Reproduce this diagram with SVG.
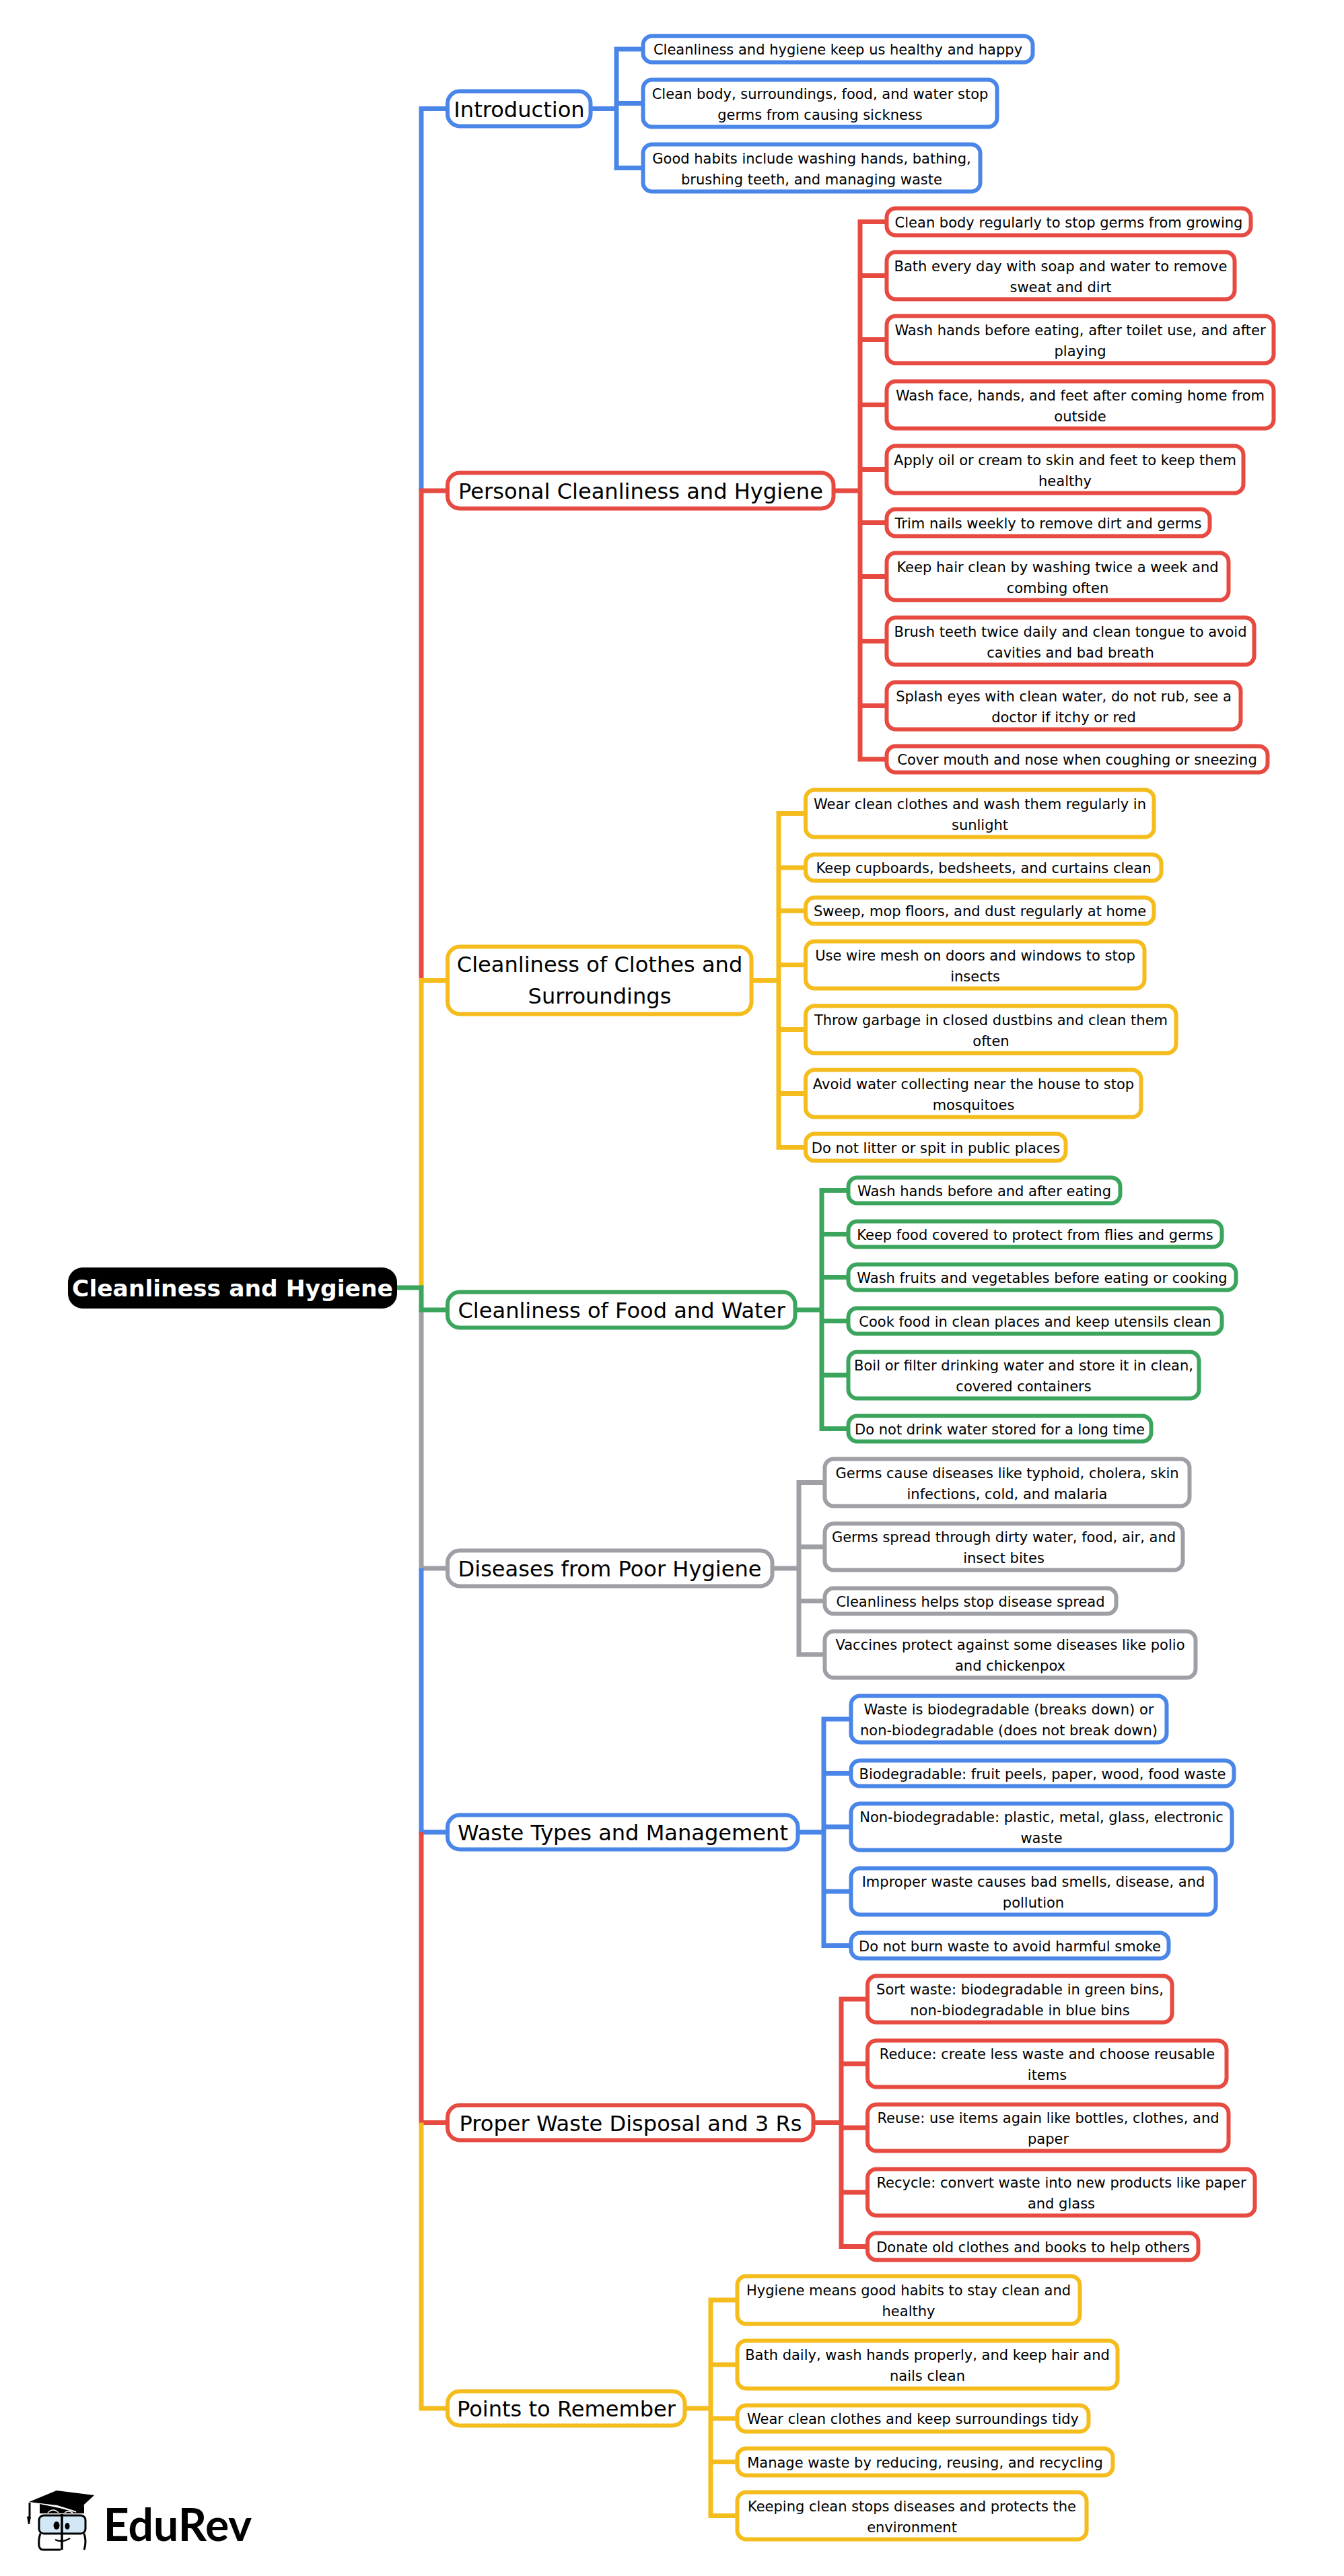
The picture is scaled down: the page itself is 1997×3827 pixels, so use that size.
<svg xmlns="http://www.w3.org/2000/svg" width="1997" height="3827" viewBox="0 0 1997 3827">
<style>
text{font-family:"DejaVu Sans","Liberation Sans",sans-serif;fill:#000;text-anchor:middle}
.l{font-size:21px}
.m{font-size:32.1px}
.r{font-size:34.5px;font-weight:700;fill:#fff}
rect.n{fill:#fff;stroke-width:6}
.lf{rx:13px;ry:13px}
.br{rx:18px;ry:18px}
.c path{fill:none;stroke-width:7;stroke-linejoin:miter}
.blue{stroke:#4a86e8}
.red{stroke:#e64a41}
.yel{stroke:#f4bc1c}
.grn{stroke:#3ba55d}
.gry{stroke:#9ea0a6}
</style>
<rect width="1997" height="3827" fill="#fff"/>
<g id="connectors" class="c">
<path class="blue" d="M663 161.5H626V729"/>
<path class="red" d="M663 729H626V1456.5"/>
<path class="yel" d="M663 1456.5H626V1913"/>
<path class="gry" d="M663 2330H626V1946"/>
<path class="grn" d="M590 1913H626V1946H663"/>
<path class="blue" d="M663 2722H626V2330"/>
<path class="red" d="M663 3153.5H626V2722"/>
<path class="yel" d="M663 3578H626V3153.5"/>
<path class="blue" d="M880 161.5H916M953 73H916V249.5H953M916 153.5H953"/>
<path class="red" d="M1241 729H1278M1315 329.5H1278V1128H1315M1278 409.5H1315M1278 504.5H1315M1278 601.5H1315M1278 697.5H1315M1278 776.5H1315M1278 856.5H1315M1278 952.5H1315M1278 1048.5H1315"/>
<path class="yel" d="M1119 1456.5H1157M1195 1208.5H1157V1704.5H1195M1157 1289H1195M1157 1353H1195M1157 1433.5H1195M1157 1529.5H1195M1157 1624.5H1195"/>
<path class="grn" d="M1184 1946H1221M1258 1768.5H1221V2122.5H1258M1221 1833.5H1258M1221 1897.5H1258M1221 1962.5H1258M1221 2043H1258"/>
<path class="gry" d="M1150 2330H1187M1223 2202.5H1187V2458H1223M1187 2298H1223M1187 2378.5H1223"/>
<path class="blue" d="M1188 2722H1224M1262 2554H1224V2890.5H1262M1224 2634.5H1262M1224 2714H1262M1224 2810H1262"/>
<path class="red" d="M1211 3153.5H1250M1287 2970H1250V3337.5H1287M1250 3066H1287M1250 3161H1287M1250 3257H1287"/>
<path class="yel" d="M1020 3578H1056M1093 3417H1056V3737.5H1093M1056 3513H1093M1056 3593H1093M1056 3657.5H1093"/>
</g>
<g id="root"><rect x="101" y="1883" width="489" height="61" rx="22" fill="#000"/><text class="r" x="345.5" y="1926">Cleanliness and Hygiene</text></g>

<g id="introduction"><rect class="n br blue" x="665" y="135.5" width="212.5" height="52"/><text class="m" x="771.5" y="173.5">Introduction</text></g>
<g id="i1"><rect class="n lf blue" x="955.5" y="53.5" width="579" height="39"/><text class="l" x="1245" y="81">Cleanliness and hygiene keep us healthy and happy</text></g>
<g id="i2"><rect class="n lf blue" x="955.5" y="118.5" width="526" height="70"/><text class="l"><tspan x="1218.5" y="146.5">Clean body, surroundings, food, and water stop</tspan><tspan x="1218.5" y="177.5">germs from causing sickness</tspan></text></g>
<g id="i3"><rect class="n lf blue" x="955.5" y="214.5" width="501" height="70"/><text class="l"><tspan x="1206" y="242.5">Good habits include washing hands, bathing,</tspan><tspan x="1206" y="273.5">brushing teeth, and managing waste</tspan></text></g>

<g id="personal"><rect class="n br red" x="665" y="702.5" width="573.5" height="53"/><text class="m" x="952" y="741">Personal Cleanliness and Hygiene</text></g>
<g id="p1"><rect class="n lf red" x="1317.5" y="309.5" width="541" height="40"/><text class="l" x="1588" y="337.500">Clean body regularly to stop germs from growing</text></g>
<g id="p2"><rect class="n lf red" x="1317.5" y="374.5" width="517" height="70"/><text class="l"><tspan x="1576" y="402.5">Bath every day with soap and water to remove</tspan><tspan x="1576" y="433.5">sweat and dirt</tspan></text></g>
<g id="p3"><rect class="n lf red" x="1317.5" y="469.5" width="575" height="70"/><text class="l"><tspan x="1605" y="497.5">Wash hands before eating, after toilet use, and after</tspan><tspan x="1605" y="528.5">playing</tspan></text></g>
<g id="p4"><rect class="n lf red" x="1317.5" y="566.5" width="575" height="70"/><text class="l"><tspan x="1605" y="594.5">Wash face, hands, and feet after coming home from</tspan><tspan x="1605" y="625.5">outside</tspan></text></g>
<g id="p5"><rect class="n lf red" x="1317.5" y="662.5" width="530" height="70"/><text class="l"><tspan x="1582.5" y="690.5">Apply oil or cream to skin and feet to keep them</tspan><tspan x="1582.5" y="721.5">healthy</tspan></text></g>
<g id="p6"><rect class="n lf red" x="1317.5" y="756.5" width="480" height="40"/><text class="l" x="1557.5" y="784.500">Trim nails weekly to remove dirt and germs</text></g>
<g id="p7"><rect class="n lf red" x="1317.5" y="821.5" width="508" height="70"/><text class="l"><tspan x="1571.5" y="849.5">Keep hair clean by washing twice a week and</tspan><tspan x="1571.5" y="880.5">combing often</tspan></text></g>
<g id="p8"><rect class="n lf red" x="1317.5" y="917.5" width="546" height="70"/><text class="l"><tspan x="1590.5" y="945.5">Brush teeth twice daily and clean tongue to avoid</tspan><tspan x="1590.5" y="976.5">cavities and bad breath</tspan></text></g>
<g id="p9"><rect class="n lf red" x="1317.5" y="1013.5" width="526" height="70"/><text class="l"><tspan x="1580.5" y="1041.5">Splash eyes with clean water, do not rub, see a</tspan><tspan x="1580.5" y="1072.5">doctor if itchy or red</tspan></text></g>
<g id="p10"><rect class="n lf red" x="1317.5" y="1108.5" width="566" height="39"/><text class="l" x="1600.5" y="1136">Cover mouth and nose when coughing or sneezing</text></g>

<g id="clothes"><rect class="n br yel" x="665" y="1406.5" width="451.5" height="100"/><text class="m"><tspan x="891" y="1444">Cleanliness of Clothes and</tspan><tspan x="891" y="1491">Surroundings</tspan></text></g>
<g id="c1"><rect class="n lf yel" x="1197" y="1173.5" width="517.5" height="70"/><text class="l"><tspan x="1456" y="1201.5">Wear clean clothes and wash them regularly in</tspan><tspan x="1456" y="1232.5">sunlight</tspan></text></g>
<g id="c2"><rect class="n lf yel" x="1197" y="1269.5" width="528.5" height="39"/><text class="l" x="1461.5" y="1297">Keep cupboards, bedsheets, and curtains clean</text></g>
<g id="c3"><rect class="n lf yel" x="1197" y="1333.5" width="517.5" height="39"/><text class="l" x="1456" y="1361">Sweep, mop floors, and dust regularly at home</text></g>
<g id="c4"><rect class="n lf yel" x="1197" y="1398.5" width="503.5" height="70"/><text class="l"><tspan x="1449" y="1426.5">Use wire mesh on doors and windows to stop</tspan><tspan x="1449" y="1457.5">insects</tspan></text></g>
<g id="c5"><rect class="n lf yel" x="1197" y="1494.5" width="550.5" height="70"/><text class="l"><tspan x="1472.5" y="1522.5">Throw garbage in closed dustbins and clean them</tspan><tspan x="1472.5" y="1553.5">often</tspan></text></g>
<g id="c6"><rect class="n lf yel" x="1197" y="1589.5" width="498.5" height="70"/><text class="l"><tspan x="1446.5" y="1617.5">Avoid water collecting near the house to stop</tspan><tspan x="1446.5" y="1648.5">mosquitoes</tspan></text></g>
<g id="c7"><rect class="n lf yel" x="1197" y="1684.5" width="386.5" height="40"/><text class="l" x="1390.5" y="1712.500">Do not litter or spit in public places</text></g>

<g id="food"><rect class="n br grn" x="665" y="1919.5" width="516.5" height="53"/><text class="m" x="923.5" y="1958">Cleanliness of Food and Water</text></g>
<g id="f1"><rect class="n lf grn" x="1260.5" y="1749.5" width="404" height="38"/><text class="l" x="1462.5" y="1776.500">Wash hands before and after eating</text></g>
<g id="f2"><rect class="n lf grn" x="1260.5" y="1814.5" width="555" height="38"/><text class="l" x="1538" y="1841.500">Keep food covered to protect from flies and germs</text></g>
<g id="f3"><rect class="n lf grn" x="1260.5" y="1878.5" width="576" height="38"/><text class="l" x="1548.5" y="1905.500">Wash fruits and vegetables before eating or cooking</text></g>
<g id="f4"><rect class="n lf grn" x="1260.5" y="1943.5" width="555" height="38"/><text class="l" x="1538" y="1970.500">Cook food in clean places and keep utensils clean</text></g>
<g id="f5"><rect class="n lf grn" x="1260.5" y="2008.5" width="521" height="69"/><text class="l"><tspan x="1521" y="2036">Boil or filter drinking water and store it in clean,</tspan><tspan x="1521" y="2067">covered containers</tspan></text></g>
<g id="f6"><rect class="n lf grn" x="1260.5" y="2103.5" width="450" height="38"/><text class="l" x="1485.5" y="2130.500">Do not drink water stored for a long time</text></g>

<g id="diseases"><rect class="n br gry" x="665" y="2303.5" width="482.5" height="53"/><text class="m" x="906" y="2342">Diseases from Poor Hygiene</text></g>
<g id="g1"><rect class="n lf gry" x="1225.5" y="2167.5" width="542" height="70"/><text class="l"><tspan x="1496.5" y="2195.5">Germs cause diseases like typhoid, cholera, skin</tspan><tspan x="1496.5" y="2226.5">infections, cold, and malaria</tspan></text></g>
<g id="g2"><rect class="n lf gry" x="1225.5" y="2263.5" width="532" height="69"/><text class="l"><tspan x="1491.5" y="2291">Germs spread through dirty water, food, air, and</tspan><tspan x="1491.5" y="2322">insect bites</tspan></text></g>
<g id="g3"><rect class="n lf gry" x="1225.5" y="2359.5" width="433" height="38"/><text class="l" x="1442" y="2386.500">Cleanliness helps stop disease spread</text></g>
<g id="g4"><rect class="n lf gry" x="1225.5" y="2423.5" width="551" height="69"/><text class="l"><tspan x="1501" y="2451">Vaccines protect against some diseases like polio</tspan><tspan x="1501" y="2482">and chickenpox</tspan></text></g>

<g id="waste"><rect class="n br blue" x="665" y="2696.5" width="520.5" height="51"/><text class="m" x="925.5" y="2734">Waste Types and Management</text></g>
<g id="w1"><rect class="n lf blue" x="1264.5" y="2519.5" width="469" height="69"/><text class="l"><tspan x="1499" y="2547">Waste is biodegradable (breaks down) or</tspan><tspan x="1499" y="2578">non-biodegradable (does not break down)</tspan></text></g>
<g id="w2"><rect class="n lf blue" x="1264.5" y="2615.5" width="569" height="38"/><text class="l" x="1549" y="2642.500">Biodegradable: fruit peels, paper, wood, food waste</text></g>
<g id="w3"><rect class="n lf blue" x="1264.5" y="2679.5" width="566" height="69"/><text class="l"><tspan x="1547.5" y="2707">Non-biodegradable: plastic, metal, glass, electronic</tspan><tspan x="1547.5" y="2738">waste</tspan></text></g>
<g id="w4"><rect class="n lf blue" x="1264.5" y="2775.5" width="542" height="69"/><text class="l"><tspan x="1535.5" y="2803">Improper waste causes bad smells, disease, and</tspan><tspan x="1535.5" y="2834">pollution</tspan></text></g>
<g id="w5"><rect class="n lf blue" x="1264.5" y="2871.5" width="472" height="38"/><text class="l" x="1500.5" y="2898.500">Do not burn waste to avoid harmful smoke</text></g>

<g id="proper"><rect class="n br red" x="665" y="3127.5" width="543.5" height="52"/><text class="m" x="937" y="3165.5">Proper Waste Disposal and 3 Rs</text></g>
<g id="r1"><rect class="n lf red" x="1289" y="2935.5" width="452.5" height="69"/><text class="l"><tspan x="1515.5" y="2963">Sort waste: biodegradable in green bins,</tspan><tspan x="1515.5" y="2994">non-biodegradable in blue bins</tspan></text></g>
<g id="r2"><rect class="n lf red" x="1289" y="3031.5" width="533.5" height="69"/><text class="l"><tspan x="1556" y="3059">Reduce: create less waste and choose reusable</tspan><tspan x="1556" y="3090">items</tspan></text></g>
<g id="r3"><rect class="n lf red" x="1289" y="3126.5" width="536.5" height="69"/><text class="l"><tspan x="1557.5" y="3154">Reuse: use items again like bottles, clothes, and</tspan><tspan x="1557.5" y="3185">paper</tspan></text></g>
<g id="r4"><rect class="n lf red" x="1289" y="3222.5" width="575.5" height="69"/><text class="l"><tspan x="1577" y="3250">Recycle: convert waste into new products like paper</tspan><tspan x="1577" y="3281">and glass</tspan></text></g>
<g id="r5"><rect class="n lf red" x="1289" y="3317.5" width="491.5" height="40"/><text class="l" x="1535" y="3345.500">Donate old clothes and books to help others</text></g>

<g id="points"><rect class="n br yel" x="665" y="3552.5" width="352.5" height="51"/><text class="m" x="841.5" y="3590">Points to Remember</text></g>
<g id="t1"><rect class="n lf yel" x="1095.5" y="3381.5" width="509" height="71"/><text class="l"><tspan x="1350" y="3410">Hygiene means good habits to stay clean and</tspan><tspan x="1350" y="3441">healthy</tspan></text></g>
<g id="t2"><rect class="n lf yel" x="1095.5" y="3477.5" width="565" height="71"/><text class="l"><tspan x="1378" y="3506">Bath daily, wash hands properly, and keep hair and</tspan><tspan x="1378" y="3537">nails clean</tspan></text></g>
<g id="t3"><rect class="n lf yel" x="1095.5" y="3573.5" width="522" height="39"/><text class="l" x="1356.5" y="3601">Wear clean clothes and keep surroundings tidy</text></g>
<g id="t4"><rect class="n lf yel" x="1095.5" y="3637.5" width="558" height="40"/><text class="l" x="1374.5" y="3665.500">Manage waste by reducing, reusing, and recycling</text></g>
<g id="t5"><rect class="n lf yel" x="1095.5" y="3702.5" width="519" height="70"/><text class="l"><tspan x="1355" y="3730.5">Keeping clean stops diseases and protects the</tspan><tspan x="1355" y="3761.5">environment</tspan></text></g>

<g id="logo">
<path d="M42.500 3738h3v-20h-3z" fill="#000"/>
<path d="M40 3739q4-2 6 0l-2 11h-2z" fill="#000"/>
<path d="M59 3720V3734H125V3721L113 3731z" fill="#000"/>
<path d="M43 3717L84 3700L140 3707L114 3731L85 3722z" fill="#000"/>
<path d="M85 3724L113 3732" stroke="#fff" stroke-width="1.500" fill="none"/>
<path d="M71 3733q8-8 16 0M96 3733q5-4 12 0" stroke="#fff" stroke-width="1.500" fill="none"/>
<rect x="58" y="3737" width="69" height="27" rx="7" fill="#d3e8f7" stroke="#000" stroke-width="3"/>
<path d="M92 3735V3788" stroke="#000" stroke-width="3.500" fill="none"/>
<ellipse cx="84" cy="3752" rx="4.500" ry="6" fill="#000"/>
<ellipse cx="100" cy="3753" rx="3.500" ry="5" fill="#000"/>
<path d="M60 3764Q57 3772 58 3782Q59 3788 64 3788H90M125 3764Q129 3776 125 3788" stroke="#000" stroke-width="3" fill="none"/>
<path d="M82 3773q10 5 22-2" stroke="#000" stroke-width="2.500" fill="none"/>
<text x="264" y="3775" font-size="66" style="font-family:Lato,'Open Sans',sans-serif;font-weight:700">EduRev</text>
</g>
</svg>
